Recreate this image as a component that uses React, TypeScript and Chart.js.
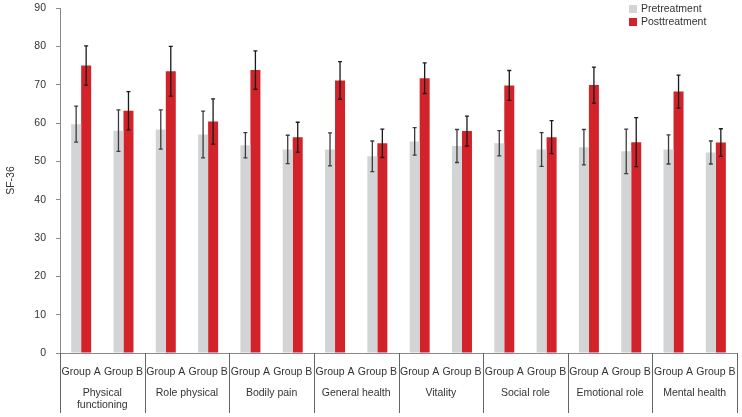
import React, { useEffect, useRef } from "react";
import { Chart, registerables } from "chart.js";

Chart.register(...registerables);

const categories: string[][] = [
  ["Physical", "functioning"],
  ["Role physical"],
  ["Bodily pain"],
  ["General health"],
  ["Vitality"],
  ["Social role"],
  ["Emotional role"],
  ["Mental health"],
];
const groups = ["Group A", "Group B"];
const seriesNames = ["Pretreatment", "Posttreatment"];

const preValues = [59.7, 58.0, 58.3, 57.0, 54.2, 53.1, 53.1, 51.3, 55.2, 54.0, 54.7, 53.1, 53.7, 52.6, 53.1, 52.3];
const preErrors = [4.7, 5.4, 5.1, 6.1, 3.3, 3.7, 4.3, 4.0, 3.6, 4.3, 3.3, 4.4, 4.6, 5.8, 3.8, 3.0];
const postValues = [75.0, 63.2, 73.5, 60.4, 73.8, 56.3, 71.1, 54.7, 71.7, 57.9, 69.8, 56.3, 69.9, 55.0, 68.2, 54.9];
const postErrors = [5.1, 5.0, 6.5, 5.9, 5.0, 3.9, 4.9, 3.7, 4.0, 3.9, 3.9, 4.3, 4.7, 6.4, 4.3, 3.6];

const yTicks = { min: 0, max: 90, step: 10 };
const yTitle = "SF-36";

const FONT = "'Liberation Sans', Arial, sans-serif";
const TEXT = "#333333";
const AXIS = "#8a8a8a";
const GRAY = "#d3d4d5";
const RED = "#d2232a";

export default function App() {
  const ref = useRef<HTMLCanvasElement | null>(null);

  useEffect(() => {
    document.body.style.margin = "0";
    const canvas = ref.current;
    if (!canvas) return;

    const labels: string[] = [];
    categories.forEach(() => groups.forEach((g) => labels.push(g)));
    const errors = [preErrors, postErrors];

    const errorBars = {
      id: "errorBars",
      afterDatasetsDraw(chart: any) {
        const ctx = chart.ctx;
        const ys = chart.scales.y;
        chart.data.datasets.forEach((ds: any, di: number) => {
          const meta = chart.getDatasetMeta(di);
          ctx.save();
          ctx.strokeStyle = di === 0 ? "#3c3c3c" : "#1a1a1a";
          ctx.lineWidth = 1.3;
          meta.data.forEach((el: any, i: number) => {
            const v = ds.data[i];
            const e = errors[di][i];
            const x = el.x;
            const t = ys.getPixelForValue(v + e);
            const b = ys.getPixelForValue(v - e);
            ctx.beginPath();
            ctx.moveTo(x, t);
            ctx.lineTo(x, b);
            ctx.moveTo(x - 2, t);
            ctx.lineTo(x + 2, t);
            ctx.moveTo(x - 2, b);
            ctx.lineTo(x + 2, b);
            ctx.stroke();
          });
          ctx.restore();
        });
      },
    };

    const decorations = {
      id: "decorations",
      afterDraw(chart: any) {
        const ctx = chart.ctx;
        const xs = chart.scales.x;
        const area = chart.chartArea;
        const n = categories.length;
        const w = (area.right - area.left) / n;
        ctx.save();
        // category separators
        ctx.strokeStyle = "#666666";
        ctx.lineWidth = 1;
        for (let i = 0; i <= n; i++) {
          const x = Math.round(area.left + i * w) + 0.5;
          ctx.beginPath();
          ctx.moveTo(x, area.bottom);
          ctx.lineTo(x, area.bottom + 60);
          ctx.stroke();
        }
        // category names
        ctx.fillStyle = TEXT;
        ctx.font = `10.5px ${FONT}`;
        ctx.textAlign = "center";
        ctx.textBaseline = "middle";
        categories.forEach((lines, i) => {
          const cx = (xs.getPixelForValue(i * 2) + xs.getPixelForValue(i * 2 + 1)) / 2;
          lines.forEach((ln, j) => {
            ctx.fillText(ln, cx, area.bottom + 40 + j * 12.5);
          });
        });
        // y title
        ctx.save();
        ctx.translate(11, (area.top + area.bottom) / 2);
        ctx.rotate(-Math.PI / 2);
        ctx.fillText(yTitle, 0, 0);
        ctx.restore();
        // legend
        ctx.textAlign = "left";
        chart.data.datasets.forEach((ds: any, di: number) => {
          const y = 9 + di * 13;
          ctx.fillStyle = ds.backgroundColor;
          ctx.fillRect(629, y - 4, 8, 8);
          ctx.fillStyle = TEXT;
          ctx.fillText(ds.label, 641, y);
        });
        ctx.restore();
      },
    };

    const chart = new Chart(canvas, {
      type: "bar",
      data: {
        labels,
        datasets: [
          { label: seriesNames[0], data: preValues, backgroundColor: GRAY },
          { label: seriesNames[1], data: postValues, backgroundColor: RED },
        ],
      },
      options: {
        animation: false,
        responsive: false,
        devicePixelRatio: 1,
        layout: { padding: { top: 0, right: 5, left: 0, bottom: 0 } },
        datasets: { bar: { categoryPercentage: 0.473, barPercentage: 1 } },
        plugins: { legend: { display: false }, tooltip: { enabled: false } },
        scales: {
          x: {
            grid: { display: false },
            border: { display: true, color: AXIS, width: 1 },
            ticks: {
              color: TEXT,
              font: { family: FONT, size: 10.5 },
              maxRotation: 0,
              autoSkip: false,
              padding: 5,
            },
            afterFit: (s: any) => {
              s.height = 64;
            },
          },
          y: {
            min: yTicks.min,
            max: yTicks.max,
            grid: { display: true, drawOnChartArea: false, drawTicks: true, tickLength: 4, color: AXIS },
            border: { display: true, color: AXIS, width: 1 },
            ticks: {
              stepSize: yTicks.step,
              color: TEXT,
              font: { family: FONT, size: 10.5 },
              padding: 10,
            },
            afterFit: (s: any) => {
              s.width = 60;
              s.paddingTop = 8;
              s.paddingBottom = 0;
            },
          },
        },
      },
      plugins: [errorBars, decorations],
    });
    return () => chart.destroy();
  }, []);

  return (
    <div style={{ width: 742, height: 417 }}>
      <canvas ref={ref} width={742} height={417} style={{ display: "block" }} />
    </div>
  );
}
